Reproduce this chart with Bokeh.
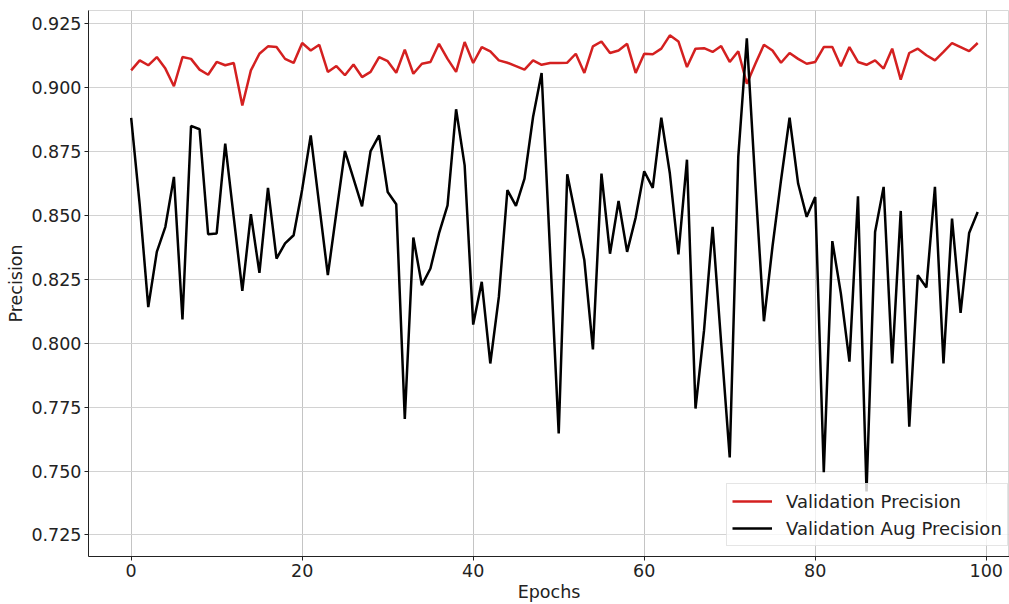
from bokeh.plotting import figure
from bokeh.models import Range1d, FixedTicker, Legend, LegendItem
from bokeh.embed import file_html
from bokeh.resources import INLINE

epochs = list(range(100))

val_precision = [
    0.9065, 0.9104, 0.9085, 0.9117, 0.9072, 0.9003, 0.9117, 0.9110, 0.9068, 0.9048,
    0.9098, 0.9085, 0.9094, 0.8928, 0.9065, 0.9130, 0.9159, 0.9156, 0.9110, 0.9094,
    0.9172, 0.9143, 0.9165, 0.9059, 0.9082, 0.9046, 0.9088, 0.9039, 0.9059, 0.9117,
    0.9101, 0.9056, 0.9146, 0.9052, 0.9091, 0.9098, 0.9169, 0.9110, 0.9059, 0.9176,
    0.9094, 0.9156, 0.9139, 0.9104, 0.9095, 0.9082, 0.9068, 0.9104, 0.9087, 0.9094,
    0.9094, 0.9095, 0.9130, 0.9055, 0.9159, 0.9178, 0.9133, 0.9143, 0.9169, 0.9055,
    0.9130, 0.9128, 0.9150, 0.9202, 0.9178, 0.9078, 0.9150, 0.9152, 0.9137, 0.9160,
    0.9098, 0.9140, 0.9013, 0.9091, 0.9165, 0.9143, 0.9095, 0.9133, 0.9110, 0.9091,
    0.9098, 0.9156, 0.9156, 0.9081, 0.9156, 0.9098, 0.9087, 0.9104, 0.9072, 0.9150,
    0.9029, 0.9133, 0.9150, 0.9124, 0.9104, 0.9137, 0.9172, 0.9156, 0.9140, 0.9172,
]

val_aug_precision = [
    0.8880, 0.8540, 0.8140, 0.8356, 0.8454, 0.8649, 0.8092, 0.8848, 0.8835, 0.8425,
    0.8428, 0.8779, 0.8490, 0.8204, 0.8503, 0.8274, 0.8606, 0.8330, 0.8389, 0.8421,
    0.8600, 0.8811, 0.8538, 0.8265, 0.8510, 0.8750, 0.8642, 0.8534, 0.8750, 0.8811,
    0.8590, 0.8542, 0.7703, 0.8412, 0.8226, 0.8291, 0.8428, 0.8538, 0.8913, 0.8694,
    0.8072, 0.8239, 0.7920, 0.8180, 0.8597, 0.8536, 0.8642, 0.8883, 0.9055, 0.8350,
    0.7647, 0.8659, 0.8493, 0.8323, 0.7975, 0.8662, 0.8349, 0.8555, 0.8356, 0.8490,
    0.8671, 0.8606, 0.8880, 0.8662, 0.8346, 0.8716, 0.7744, 0.8050, 0.8454, 0.8000,
    0.7553, 0.8727, 0.9190, 0.8620, 0.8085, 0.8376, 0.8636, 0.8880, 0.8623, 0.8493,
    0.8570, 0.7495, 0.8398, 0.8193, 0.7927, 0.8573, 0.7420, 0.8434, 0.8610, 0.7920,
    0.8516, 0.7673, 0.8265, 0.8217, 0.8610, 0.7920, 0.8486, 0.8118, 0.8430, 0.8512,
]

x_ticks = [0, 20, 40, 60, 80, 100]
y_ticks = [0.725, 0.750, 0.775, 0.800, 0.825, 0.850, 0.875, 0.900, 0.925]
series_labels = ["Validation Precision", "Validation Aug Precision"]

FONT = "DejaVu Sans"

p = figure(width=1009, height=604, output_backend="svg", toolbar_location=None,
           x_range=Range1d(-4.99, 102.72), y_range=Range1d(0.7166, 0.9299),
           min_border_left=88, min_border_right=0, min_border_top=10, min_border_bottom=47)

p.background_fill_color = "white"
p.border_fill_color = "white"
p.outline_line_color = "#d8d8d8"
p.outline_line_width = 1

for ax in (p.xaxis[0], p.yaxis[0]):
    ax.major_label_text_font = FONT
    ax.major_label_text_font_size = "17.5px"
    ax.major_label_text_color = "#222222"
    ax.axis_label_text_font = FONT
    ax.axis_label_text_font_size = "17.5px"
    ax.axis_label_text_font_style = "normal"
    ax.axis_label_text_color = "#222222"
    ax.axis_line_color = "#222222"
    ax.axis_line_width = 1
    ax.major_tick_line_color = "#222222"
    ax.major_tick_out = 4
    ax.major_tick_in = 0
    ax.minor_tick_line_color = None
    ax.major_label_standoff = 3
    ax.axis_label_standoff = 2

p.xaxis[0].ticker = FixedTicker(ticks=x_ticks)
p.yaxis[0].ticker = FixedTicker(ticks=y_ticks)
p.yaxis[0].formatter.use_scientific = False
from bokeh.models import CustomJSTickFormatter
p.yaxis[0].formatter = CustomJSTickFormatter(code="return tick.toFixed(3);")
p.xaxis[0].axis_label = "Epochs"
p.yaxis[0].axis_label = "Precision"

p.xgrid.ticker = FixedTicker(ticks=x_ticks)
p.ygrid.ticker = FixedTicker(ticks=y_ticks)
p.xgrid.grid_line_color = "#c4c4c4"
p.ygrid.grid_line_color = "#d2d2d2"
p.xgrid.grid_line_width = 1
p.ygrid.grid_line_width = 1

r1 = p.line(epochs, val_precision, line_color="#d42020", line_width=2.5)
r2 = p.line(epochs, val_aug_precision, line_color="#000000", line_width=2.5)

legend = Legend(items=[LegendItem(label=series_labels[0], renderers=[r1]),
                       LegendItem(label=series_labels[1], renderers=[r2])],
                location=(638, 10))
legend.label_text_font = FONT
legend.label_text_font_size = "18px"
legend.label_text_color = "#222222"
legend.glyph_width = 40
legend.glyph_height = 24
legend.label_height = 24
legend.label_standoff = 14
legend.spacing = 3
legend.padding = 5
legend.margin = 0
legend.border_line_color = "#cccccc"
legend.border_line_width = 1
legend.background_fill_color = "white"
legend.background_fill_alpha = 0.8
p.add_layout(legend)

open("out.html", "w").write(file_html(p, INLINE))
